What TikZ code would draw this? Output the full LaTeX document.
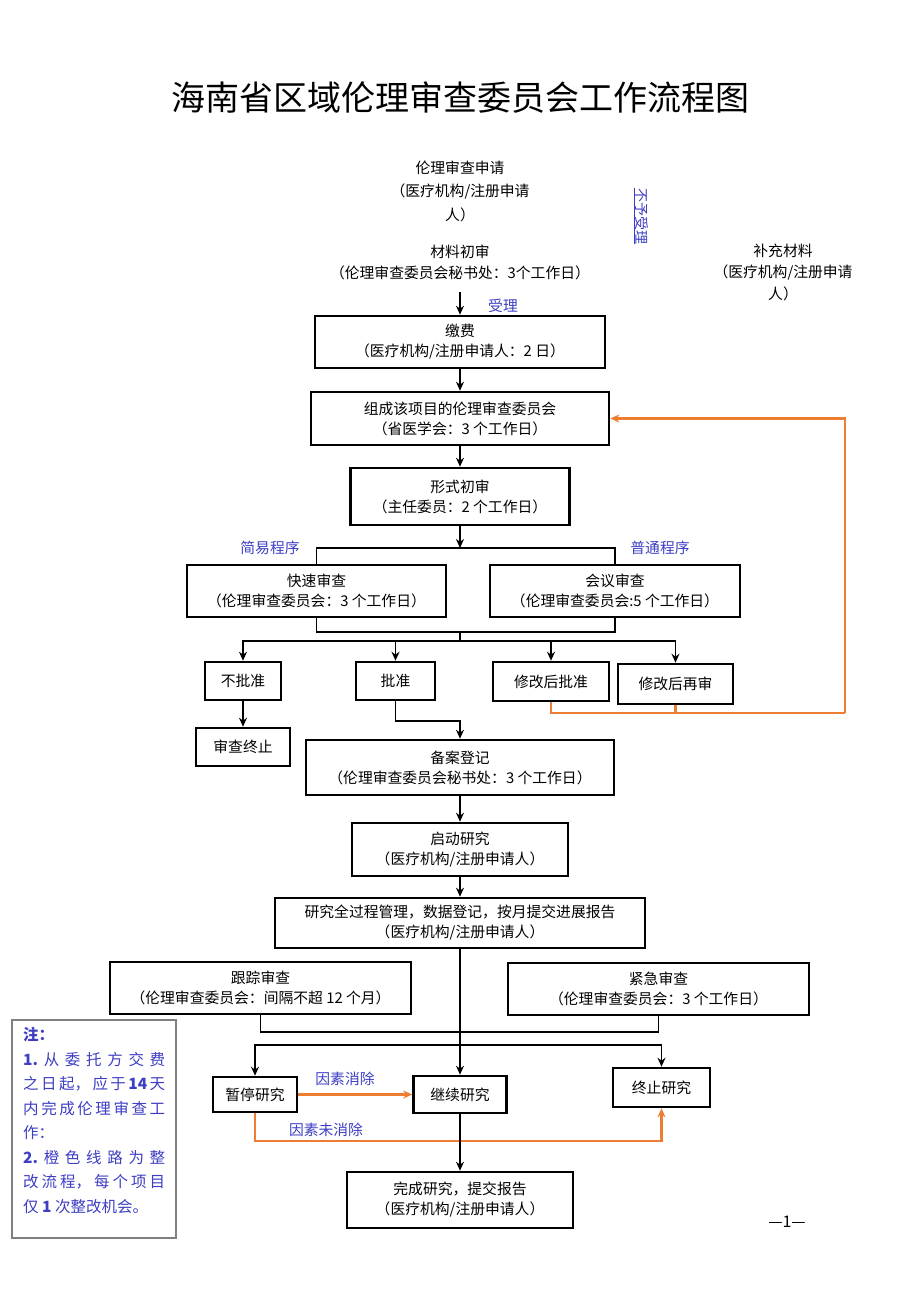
\documentclass[tikz,border=0pt]{standalone}
\usepackage{fontspec}
\setmainfont{Noto Sans CJK SC}
\usetikzlibrary{arrows.meta}
\definecolor{lblue}{RGB}{62,62,196}
\definecolor{orng}{RGB}{237,125,49}
\tikzset{
  box/.style={draw, line width=2.6pt, inner sep=0pt, align=center, font=\fontsize{14.8}{20}\selectfont},
  txt/.style={inner sep=0pt, align=center},
  lbl/.style={text=lblue, inner sep=0pt, font=\fontsize{14.8}{18}\selectfont},
  conn/.style={line width=1.8pt},
  arr/.style={conn, -{Stealth[length=9pt,width=8pt]}},
  ocon/.style={draw=orng, line width=2.2pt},
  oarr/.style={ocon, -{Stealth[length=9pt,width=8pt]}},
}
\begin{document}
\begin{tikzpicture}[x=1pt,y=-1pt]
\useasboundingbox[fill=white] (0,0) rectangle (920,1301);
% title
\node[txt, font=\fontsize{34}{40}\selectfont] (title) at (460,98) {海南省区域伦理审查委员会工作流程图};
% top free texts
\node[txt, font=\fontsize{14.8}{23.5}\selectfont] (sq) at (460,191) {伦理审查申请\\（医疗机构/注册申请\\人）};
\node[txt, font=\fontsize{14.8}{21}\selectfont] (cl) at (460,262.5) {材料初审\\（伦理审查委员会秘书处：3个工作日）};
\node[txt, font=\fontsize{14.8}{21.5}\selectfont] (bc) at (783,272) {补充材料\\（医疗机构/注册申请\\人）};
\node[lbl, rotate=-90, font=\fontsize{14}{16}\selectfont] (byl) at (641,216) {\underline{不予受理}};
% boxes
\node[box, minimum width=290, minimum height=52] (jf) at (460,342) {缴费\\（医疗机构/注册申请人：2 日）};
\node[box, minimum width=298, minimum height=53] (zc) at (460,418.5) {组成该项目的伦理审查委员会\\（省医学会：3 个工作日）};
\node[box, minimum width=219, minimum height=57] (xs) at (460,496.5) {形式初审\\（主任委员：2 个工作日）};
\node[box, minimum width=259, minimum height=52] (ks) at (316.5,591) {快速审查\\（伦理审查委员会：3 个工作日）};
\node[box, minimum width=250, minimum height=52] (hy) at (615,591) {会议审查\\（伦理审查委员会:5 个工作日）};
\node[box, minimum width=76, minimum height=38] (bpz) at (243,681) {不批准};
\node[box, minimum width=79, minimum height=38] (pz) at (395.5,681) {批准};
\node[box, minimum width=116, minimum height=39] (xgpz) at (551,681.5) {修改后批准};
\node[box, minimum width=115, minimum height=40] (xgzs) at (675.5,684) {修改后再审};
\node[box, minimum width=94, minimum height=38] (sczz) at (243,747) {审查终止};
\node[box, minimum width=308, minimum height=55] (badj) at (460,767.5) {备案登记\\（伦理审查委员会秘书处：3 个工作日）};
\node[box, minimum width=216, minimum height=53] (qd) at (460,849.5) {启动研究\\（医疗机构/注册申请人）};
\node[box, minimum width=370, minimum height=50] (qgc) at (460,923) {研究全过程管理，数据登记，按月提交进展报告\\（医疗机构/注册申请人）};
\node[box, minimum width=301, minimum height=52] (gz) at (260.5,988) {跟踪审查\\（伦理审查委员会：间隔不超 12 个月）};
\node[box, minimum width=301, minimum height=52] (jj) at (658.5,989) {紧急审查\\（伦理审查委员会：3 个工作日）};
\node[box, minimum width=84, minimum height=35] (zt) at (255,1094.5) {暂停研究};
\node[box, minimum width=93, minimum height=37] (jx) at (460,1094.5) {继续研究};
\node[box, minimum width=97, minimum height=39] (zz) at (661.5,1087.5) {终止研究};
\node[box, minimum width=226, minimum height=56] (wc) at (460,1200) {完成研究，提交报告\\（医疗机构/注册申请人）};
% labels
\node[lbl] (sl) at (503,306) {受理};
\node[lbl] (jy) at (270,548) {简易程序};
\node[lbl] (pt) at (660,548) {普通程序};
\node[lbl] (xc) at (345,1079) {因素消除};
\node[lbl] (wxc) at (326,1130) {因素未消除};
\node[txt, font=\fontsize{16}{18}\selectfont] (pg) at (787,1222) {—1—};
% coordinates
\coordinate (t1) at (460,292);
\coordinate (j1) at (460,548);
\coordinate (j2) at (460,632);
\coordinate (j3) at (460,641);
\coordinate (o1) at (845,713);
\coordinate (j5) at (460,1032);
\coordinate (j6) at (460,1045);
% connectors
\draw[arr] (t1) -- (jf.north);
\draw[arr] (jf) -- (zc);
\draw[arr] (zc) -- (xs);
\draw[arr] (xs.south) -- (j1);
\draw[conn] (ks.north) |- (j1) -| (hy.north);
\draw[conn] (ks.south) |- (j2) -| (hy.south);
\draw[conn] (j2) -- (j3);
\draw[arr] (j3) -| (bpz.north);
\draw[arr] (j3) -| (pz.north);
\draw[arr] (j3) -| (xgpz.north);
\draw[arr] (j3) -| (xgzs.north);
\draw[arr] (bpz) -- (sczz);
\draw[arr] (pz.south) -- ++(0,20) -| (badj.north);
\draw[ocon] (xgpz.south) |- (o1);
\draw[ocon] (xgzs.south) -- (xgzs.south |- o1);
\draw[oarr] (o1) |- (zc.east);
\draw[arr] (badj) -- (qd);
\draw[arr] (qd) -- (qgc);
\draw[arr] (qgc.south) -- (jx.north);
\draw[conn] (gz.south) |- (j5) -| (jj.south);
\draw[arr] (j6) -| (zt.north);
\draw[arr] (j6) -| (zz.north);
\draw[oarr] (zt.east) -- (jx.west);
\draw[oarr] (zt.south) -- ++(0,28) -| (zz.south);
\draw[arr] (jx) -- (wc);
% note
\node[draw=gray, line width=1.2pt, minimum width=164, minimum height=218, inner sep=0pt] (note) at (94,1129) {};
\node[txt, anchor=north west, align=left, text=lblue, font=\fontsize{15.5}{24.5}\selectfont] (nt) at (23,1027) {%
{\bfseries 注：}\\
\makebox[142pt][s]{\bfseries 1.\hfill\mdseries 从\hfill 委\hfill 托\hfill 方\hfill 交\hfill 费}\\
\makebox[142pt][s]{之\hfill 日\hfill 起，\hfill 应\hfill 于\hfill {\bfseries 14}\hfill 天}\\
\makebox[142pt][s]{内\hfill 完\hfill 成\hfill 伦\hfill 理\hfill 审\hfill 查\hfill 工}\\
作：\\
\makebox[142pt][s]{\bfseries 2.\hfill\mdseries 橙\hfill 色\hfill 线\hfill 路\hfill 为\hfill 整}\\
\makebox[142pt][s]{改\hfill 流\hfill 程，\hfill 每\hfill 个\hfill 项\hfill 目}\\
仅 {\bfseries 1} 次整改机会。};
\end{tikzpicture}
\end{document}
